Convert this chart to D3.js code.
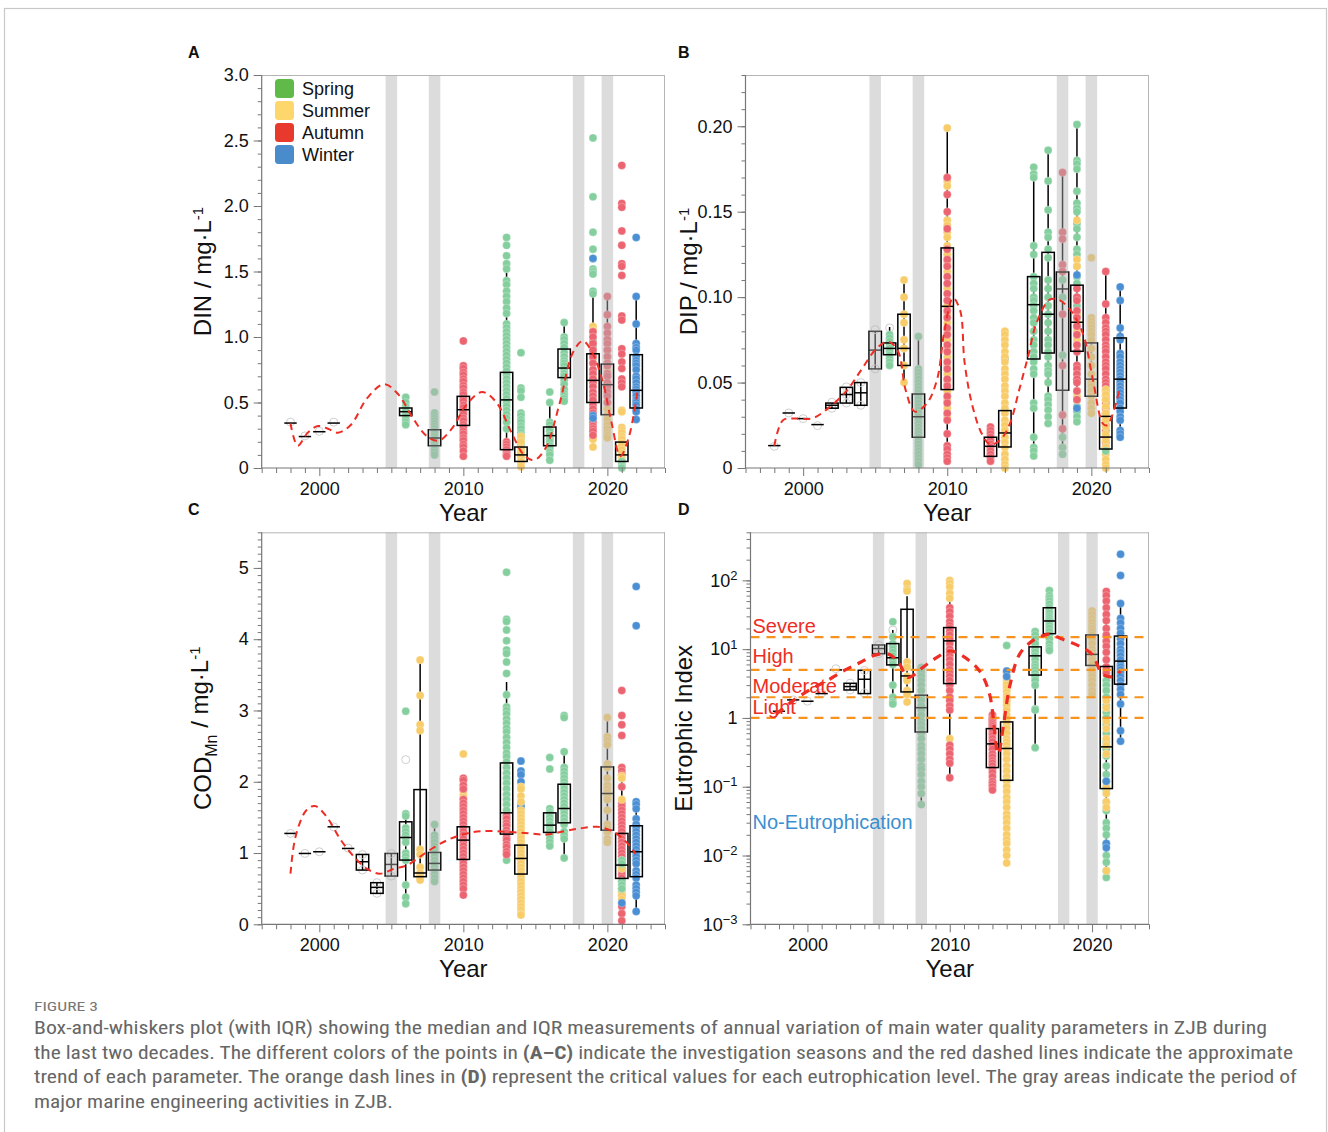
<!DOCTYPE html>
<html>
<head>
<meta charset="utf-8">
<script src="https://cdn.jsdelivr.net/npm/d3@7"></script>
<style>
body { margin: 0; background: #fff; }
svg text { font-family: "Liberation Sans", Arial, Helvetica, sans-serif; }
</style>
</head>
<body>
<svg id="fig" width="1328" height="1132"></svg>
<script>
// ---- data ----
var seasons = ["Spring", "Summer", "Autumn", "Winter"];
var engineeringYears = [2005, 2008, 2018, 2020];
var yearTicks = [2000, 2010, 2020];

// boxes: [year, whiskerLow, q1, median, q3, whiskerHigh]
var dinBoxes = [
    [1998, 0.343, 0.343, 0.343, 0.343, 0.343], [1999, 0.24, 0.24, 0.24, 0.24, 0.24],
    [2000, 0.277, 0.277, 0.277, 0.277, 0.277], [2001, 0.343, 0.343, 0.343, 0.343, 0.343],
    [2006, 0.33, 0.40, 0.43, 0.458, 0.52], [2008, 0.09, 0.17, 0.229, 0.292, 0.42],
    [2010, 0.09, 0.325, 0.445, 0.547, 0.775], [2013, 0.09, 0.14, 0.52, 0.73, 1.525],
    [2014, 0.01, 0.05, 0.10, 0.16, 0.30], [2016, 0.06, 0.17, 0.247, 0.313, 0.475],
    [2017, 0.51, 0.69, 0.763, 0.908, 1.085], [2019, 0.165, 0.50, 0.669, 0.872, 1.315],
    [2020, 0.22, 0.407, 0.636, 0.793, 1.31], [2021, 0, 0.05, 0.10, 0.198, 0.33],
    [2022, 0.376, 0.458, 0.593, 0.865, 1.315]
];
var dinPoints = [
    [1998, "none", [0.35]], [1999, "none", [0.245]], [2000, "none", [0.28]], [2001, "none", [0.35]],
    [2006, "Spring", [0.54, 0.50, 0.47, 0.45, 0.43, 0.41, 0.39, 0.37, 0.35, 0.33]],
    [2008, "Spring", [0.58, 0.42, 0.40, 0.38, 0.36, 0.34, 0.32, 0.30, 0.28, 0.26, 0.24, 0.22, 0.20, 0.18, 0.16, 0.14, 0.12, 0.10]],
    [2010, "Autumn", [0.97, 0.78, 0.76, 0.73, 0.71, 0.68, 0.66, 0.63, 0.61, 0.58, 0.56, 0.53, 0.51, 0.48, 0.46, 0.43, 0.41, 0.38, 0.36, 0.33, 0.31, 0.28, 0.26, 0.23, 0.21, 0.18, 0.16, 0.13, 0.09]],
    [2013, "Spring", [1.76, 1.70, 1.62, 1.56, 1.52, 1.43, 1.40, 1.35, 1.31, 1.27, 1.22, 1.18, 1.10, 1.07, 1.04, 1.01, 0.98, 0.95, 0.92, 0.89, 0.86, 0.83, 0.80, 0.77, 0.74, 0.71, 0.68, 0.65, 0.62, 0.59, 0.56, 0.53, 0.50, 0.47, 0.44, 0.41, 0.38, 0.35, 0.30]],
    [2013, "Autumn", [0.20, 0.18, 0.16, 0.14, 0.12, 0.10, 0.09]],
    [2014, "Spring", [0.88, 0.61, 0.59, 0.54, 0.42, 0.40, 0.37, 0.35, 0.32, 0.30, 0.27, 0.25, 0.22, 0.20, 0.18, 0.15, 0.12, 0.10]],
    [2014, "Summer", [0.24, 0.20, 0.15, 0.12, 0.08, 0.05, 0.03, 0.01]],
    [2016, "Spring", [0.58, 0.50, 0.35, 0.33, 0.30, 0.28, 0.25, 0.22, 0.20, 0.17, 0.15, 0.12, 0.10, 0.06]],
    [2017, "Spring", [1.11, 1.00, 0.98, 0.95, 0.92, 0.88, 0.85, 0.82, 0.80, 0.78, 0.75, 0.72, 0.70, 0.67, 0.64, 0.60, 0.57, 0.55, 0.53, 0.51]],
    [2019, "Spring", [2.52, 2.07, 1.80, 1.67, 1.60, 1.52, 1.50, 1.48, 1.35, 1.33, 0.97, 0.93, 0.88, 0.84]],
    [2019, "Summer", [1.08, 1.05, 0.70, 0.24, 0.22, 0.16]],
    [2019, "Autumn", [1.04, 1.00, 0.95, 0.90, 0.85, 0.80, 0.75, 0.72, 0.68, 0.65, 0.62, 0.58, 0.55, 0.52, 0.48, 0.45, 0.42, 0.38, 0.35, 0.32, 0.30, 0.28, 0.25]],
    [2019, "Winter", [1.60, 0.40, 0.38]],
    [2020, "Summer", [0.90, 0.85, 0.80, 0.75, 0.50, 0.45, 0.40, 0.37, 0.33, 0.30, 0.27, 0.25, 0.23]],
    [2020, "Autumn", [1.31, 1.17, 1.08, 1.03, 0.98, 0.95, 0.90, 0.85, 0.80, 0.78, 0.72, 0.70, 0.65, 0.62, 0.58, 0.55, 0.50]],
    [2021, "Autumn", [2.31, 2.02, 1.99, 1.81, 1.70, 1.56, 1.54, 1.47, 1.16, 1.13, 0.91, 0.87, 0.81, 0.76, 0.68, 0.65, 0.62]],
    [2021, "Summer", [0.44, 0.43, 0.31, 0.29, 0.27, 0.24, 0.22, 0.19, 0.17, 0.14, 0.11, 0.08, 0.06]],
    [2021, "Spring", [0.05, 0.03, 0.01, 0.0]],
    [2022, "Winter", [1.76, 1.31, 1.10, 0.95, 0.92, 0.90, 0.85, 0.82, 0.80, 0.78, 0.75, 0.70, 0.68, 0.65, 0.62, 0.60, 0.58, 0.55, 0.52, 0.50, 0.48, 0.45, 0.43, 0.37]]
];
var dinTrend = [[1998, 0.34], [1998.5, 0.17], [1999.2, 0.27], [1999.9, 0.32], [2000.6, 0.30], [2001.3, 0.27],
    [2002.2, 0.33], [2003.3, 0.53], [2004.5, 0.64], [2005.5, 0.56], [2006.5, 0.38], [2007.5, 0.24], [2008.3, 0.21],
    [2009.2, 0.30], [2010.2, 0.48], [2011.3, 0.58], [2012.3, 0.50], [2013.3, 0.28], [2014.2, 0.10], [2014.9, 0.06],
    [2015.7, 0.15], [2016.7, 0.50], [2017.6, 0.88], [2018.3, 0.97], [2019.0, 0.87], [2019.7, 0.65], [2020.3, 0.34],
    [2020.9, 0.09], [2021.5, 0.24], [2022.1, 0.59]];

var dipBoxes = [
    [1998, 0.0131, 0.0131, 0.0131, 0.0131, 0.0131], [1999, 0.0322, 0.0322, 0.0322, 0.0322, 0.0322],
    [2000, 0.0289, 0.0289, 0.0289, 0.0289, 0.0289], [2001, 0.0254, 0.0254, 0.0254, 0.0254, 0.0254],
    [2002, 0.035, 0.035, 0.0367, 0.038, 0.038], [2003, 0.038, 0.038, 0.043, 0.0472, 0.0472],
    [2004, 0.0367, 0.0367, 0.044, 0.050, 0.050], [2005, 0.058, 0.058, 0.069, 0.080, 0.080],
    [2006, 0.060, 0.0663, 0.070, 0.0732, 0.0825], [2007, 0.050, 0.060, 0.070, 0.090, 0.110],
    [2008, 0.002, 0.018, 0.030, 0.0433, 0.0775], [2010, 0.004, 0.0459, 0.0946, 0.1288, 0.199],
    [2013, 0.003, 0.0068, 0.0127, 0.018, 0.0254], [2014, 0, 0.0123, 0.0205, 0.0336, 0.081],
    [2016, 0.0068, 0.0638, 0.0956, 0.112, 0.1766], [2017, 0.026, 0.0673, 0.090, 0.1262, 0.1863],
    [2018, 0.0072, 0.0455, 0.1048, 0.1147, 0.1733], [2019, 0.027, 0.0683, 0.0853, 0.107, 0.201],
    [2020, 0.032, 0.042, 0.052, 0.0732, 0.088], [2021, 0, 0.0111, 0.0181, 0.0302, 0.115],
    [2022, 0.0185, 0.0351, 0.052, 0.0761, 0.1063]
];
var dipPoints = [
    [1998, "none", [0.0127]], [1999, "none", [0.0322]], [2000, "none", [0.0289]], [2001, "none", [0.0248]],
    [2002, "none", [0.0385, 0.035]], [2003, "none", [0.0475, 0.038, 0.043]], [2004, "none", [0.050, 0.0367]],
    [2005, "none", [0.081, 0.058]], [2006, "none", [0.082]],
    [2006, "Spring", [0.078, 0.076, 0.074, 0.072, 0.070, 0.068, 0.066, 0.064, 0.062, 0.060]],
    [2007, "Summer", [0.110, 0.100, 0.090, 0.085, 0.075, 0.070, 0.060, 0.050]],
    [2008, "Spring", [0.077, 0.058, 0.056, 0.054, 0.052, 0.050, 0.048, 0.046, 0.044, 0.042, 0.040, 0.038, 0.036, 0.034, 0.032, 0.030, 0.028, 0.026, 0.024, 0.022, 0.020, 0.018, 0.016, 0.014, 0.012, 0.010, 0.008, 0.006, 0.004, 0.002]],
    [2010, "Summer", [0.199, 0.168, 0.165, 0.145, 0.142, 0.138, 0.135, 0.130, 0.125, 0.120, 0.115, 0.105, 0.095, 0.090, 0.085, 0.080, 0.075, 0.070, 0.065, 0.060, 0.055, 0.050, 0.045, 0.040, 0.035, 0.030]],
    [2010, "Autumn", [0.170, 0.160, 0.150, 0.140, 0.128, 0.122, 0.118, 0.112, 0.108, 0.102, 0.098, 0.092, 0.088, 0.082, 0.078, 0.072, 0.068, 0.062, 0.058, 0.052, 0.048, 0.042, 0.038, 0.032, 0.028, 0.020, 0.013, 0.011, 0.008, 0.006, 0.004]],
    [2013, "Autumn", [0.024, 0.022, 0.020, 0.018, 0.016, 0.014, 0.012, 0.010, 0.008, 0.006, 0.004]],
    [2014, "Winter", [0.064]],
    [2014, "Summer", [0.080, 0.078, 0.075, 0.072, 0.068, 0.065, 0.062, 0.058, 0.055, 0.052, 0.048, 0.045, 0.042, 0.038, 0.035, 0.032, 0.028, 0.025, 0.022, 0.018, 0.015, 0.012, 0.008, 0.005, 0.002, 0.000]],
    [2016, "Spring", [0.176, 0.172, 0.170, 0.130, 0.125, 0.112, 0.108, 0.105, 0.100, 0.098, 0.095, 0.092, 0.088, 0.085, 0.080, 0.075, 0.072, 0.068, 0.065, 0.062, 0.058, 0.055, 0.038, 0.035, 0.018, 0.012, 0.010, 0.007]],
    [2017, "Spring", [0.186, 0.168, 0.151, 0.138, 0.135, 0.128, 0.123, 0.110, 0.105, 0.100, 0.095, 0.090, 0.085, 0.080, 0.075, 0.072, 0.068, 0.065, 0.060, 0.057, 0.055, 0.050, 0.042, 0.040, 0.037, 0.034, 0.030, 0.026]],
    [2018, "Spring", [0.110, 0.100, 0.066, 0.018, 0.012, 0.008]],
    [2018, "Autumn", [0.173, 0.138, 0.134, 0.119, 0.115, 0.090, 0.060, 0.031, 0.023]],
    [2019, "Spring", [0.201, 0.180, 0.178, 0.175, 0.162, 0.155, 0.152, 0.150, 0.143, 0.140, 0.135, 0.128, 0.125, 0.118, 0.112, 0.108, 0.100, 0.095, 0.090, 0.085, 0.040, 0.036, 0.033, 0.030, 0.027]],
    [2019, "Summer", [0.145, 0.122, 0.118, 0.090, 0.085, 0.080, 0.075, 0.072, 0.045, 0.042, 0.040]],
    [2019, "Autumn", [0.105, 0.100, 0.098, 0.092, 0.088, 0.083, 0.078, 0.072, 0.068, 0.060, 0.058, 0.055, 0.052, 0.050, 0.045, 0.040]],
    [2019, "Winter", [0.113, 0.035]],
    [2020, "Summer", [0.123, 0.088, 0.086, 0.084, 0.082, 0.080, 0.078, 0.075, 0.070, 0.065, 0.060, 0.055, 0.050, 0.048, 0.045, 0.042, 0.038, 0.035, 0.032]],
    [2021, "Autumn", [0.115, 0.096, 0.088, 0.085, 0.082, 0.080, 0.078, 0.075, 0.072, 0.070, 0.068, 0.065, 0.062, 0.060, 0.058, 0.055, 0.052, 0.050, 0.048, 0.045, 0.042, 0.040, 0.038, 0.035, 0.032, 0.028, 0.025, 0.022, 0.018, 0.015, 0.012]],
    [2021, "Summer", [0.046, 0.043, 0.040, 0.036, 0.032, 0.028, 0.024, 0.020, 0.016, 0.012, 0.008, 0.005, 0.002, 0.000]],
    [2021, "Spring", [0.010]],
    [2022, "Winter", [0.106, 0.098, 0.082, 0.077, 0.075, 0.067, 0.065, 0.062, 0.060, 0.058, 0.056, 0.054, 0.052, 0.050, 0.048, 0.046, 0.044, 0.042, 0.040, 0.038, 0.035, 0.033, 0.030, 0.028, 0.022, 0.020, 0.018]]
];
var dipTrend = [[1998, 0.013], [1998.6, 0.028], [1999.5, 0.029], [2000.6, 0.029], [2001.6, 0.034], [2003, 0.045],
    [2004, 0.057], [2005.1, 0.070], [2005.9, 0.074], [2006.6, 0.068], [2007.1, 0.046], [2007.75, 0.033],
    [2008.6, 0.038], [2009.3, 0.052], [2009.8, 0.080], [2010.4, 0.0995], [2010.9, 0.092], [2011.2, 0.062],
    [2011.7, 0.038], [2012.4, 0.020], [2013.0, 0.0137], [2013.7, 0.0166], [2014.35, 0.026], [2015, 0.046],
    [2015.6, 0.065], [2016.2, 0.085], [2017.1, 0.0985], [2017.7, 0.0985], [2018.5, 0.093], [2019.4, 0.079],
    [2020.1, 0.052], [2020.8, 0.026], [2021.1, 0.025], [2021.5, 0.032], [2022, 0.048]];

var codBoxes = [
    [1998, 1.275, 1.275, 1.275, 1.275, 1.275], [1999, 0.994, 0.994, 0.994, 0.994, 0.994],
    [2000, 1.018, 1.018, 1.018, 1.018, 1.018], [2001, 1.368, 1.368, 1.368, 1.368, 1.368],
    [2002, 1.064, 1.064, 1.064, 1.064, 1.064], [2003, 0.761, 0.761, 0.878, 0.98, 0.98],
    [2004, 0.434, 0.434, 0.518, 0.584, 0.584], [2005, 0.677, 0.677, 0.84, 0.994, 0.994],
    [2006, 0.294, 0.901, 1.218, 1.438, 1.555], [2007, 0.62, 0.668, 0.72, 1.89, 3.71],
    [2008, 0.574, 0.761, 0.854, 1.008, 1.415], [2010, 0.41, 0.910, 1.181, 1.368, 2.07],
    [2013, 0.90, 1.265, 1.564, 2.264, 3.40], [2014, 0.13, 0.705, 0.924, 1.111, 1.93],
    [2016, 1.10, 1.289, 1.391, 1.564, 1.62], [2017, 0.924, 1.424, 1.625, 1.965, 2.395],
    [2020, 1.134, 1.321, 1.835, 2.208, 2.908], [2021, 0.05, 0.644, 0.831, 1.275, 2.02],
    [2022, 0.177, 0.668, 1.018, 1.382, 1.74]
];
var codPoints = [
    [1998, "none", [1.275]], [1999, "none", [0.994]], [2000, "none", [1.018]], [2001, "none", [1.368]],
    [2002, "none", [1.07]], [2003, "none", [0.98, 0.761]], [2004, "none", [0.584, 0.434]],
    [2005, "none", [0.994, 0.677]], [2006, "none", [2.31]],
    [2006, "Spring", [2.99, 1.55, 1.52, 1.35, 1.30, 1.25, 1.20, 1.15, 1.00, 0.95, 0.90, 0.55, 0.38, 0.29]],
    [2007, "Summer", [3.71, 3.21, 2.80, 2.72, 1.05, 0.98, 0.80, 0.72, 0.68, 0.65, 0.62]],
    [2008, "Spring", [1.40, 1.25, 1.20, 1.15, 1.10, 1.05, 1.00, 0.95, 0.90, 0.85, 0.80, 0.75, 0.70, 0.65, 0.60]],
    [2010, "Summer", [2.39, 1.88, 1.82, 1.78, 1.68]],
    [2010, "Autumn", [2.05, 2.02, 1.95, 1.90, 1.75, 1.70, 1.65, 1.60, 1.55, 1.50, 1.45, 1.40, 1.35, 1.30, 1.25, 1.20, 1.15, 1.10, 1.05, 1.00, 0.95, 0.90, 0.85, 0.80, 0.75, 0.70, 0.65, 0.60, 0.55, 0.50, 0.41]],
    [2013, "Spring", [4.94, 4.28, 4.25, 4.13, 3.98, 3.85, 3.80, 3.68, 3.52, 3.22, 3.05, 3.00, 2.95, 2.88, 2.82, 2.75, 2.70, 2.62, 2.55, 2.48, 2.40, 2.35, 2.28, 2.20, 2.12, 2.05, 1.98, 1.90, 1.82, 1.75, 1.68, 1.60, 1.52, 1.45, 1.38, 1.32, 0.90]],
    [2013, "Autumn", [1.52, 1.48, 1.42, 1.38, 1.32, 1.28, 1.22, 1.18, 1.12, 1.08, 1.02, 0.98]],
    [2014, "Winter", [2.29, 2.15, 2.10, 2.00, 1.70, 1.65]],
    [2014, "Summer", [1.93, 1.90, 1.80, 1.72, 1.60, 1.55, 1.50, 1.45, 1.40, 1.35, 1.30, 1.25, 1.20, 1.15, 1.10, 1.05, 1.00, 0.95, 0.90, 0.85, 0.80, 0.75, 0.70, 0.65, 0.60, 0.55, 0.50, 0.45, 0.40, 0.35, 0.30, 0.25, 0.20, 0.15, 0.13]],
    [2016, "Spring", [2.34, 2.18, 1.62, 1.58, 1.55, 1.50, 1.45, 1.40, 1.35, 1.30, 1.25, 1.20, 1.15, 1.10]],
    [2017, "Spring", [2.93, 2.90, 2.42, 2.20, 2.15, 2.10, 2.05, 2.00, 1.95, 1.90, 1.85, 1.80, 1.75, 1.70, 1.65, 1.60, 1.55, 1.50, 1.45, 1.40, 1.30, 1.25, 1.20, 0.93]],
    [2020, "Summer", [2.90, 2.63, 2.58, 2.52, 2.25, 2.20, 2.05, 1.95, 1.90, 1.85, 1.80, 1.75, 1.60, 1.40, 1.35, 1.30, 1.20, 1.15]],
    [2021, "Autumn", [3.28, 2.93, 2.80, 2.65, 2.20, 2.15, 2.10, 1.93, 1.70, 1.65, 1.60, 1.55, 1.50, 1.45, 1.40, 1.35, 1.30, 1.25, 1.20, 1.15, 1.10, 1.05, 1.00, 0.95, 0.90, 0.85, 0.80, 0.75, 0.70, 0.65, 0.60, 0.50, 0.40, 0.30, 0.25, 0.15, 0.05]],
    [2021, "Summer", [2.08, 2.05, 1.75, 0.78, 0.45, 0.40, 0.35]],
    [2021, "Spring", [0.90, 0.85, 0.60, 0.55, 0.50]],
    [2021, "Winter", [0.30]],
    [2022, "Winter", [4.74, 4.19, 1.72, 1.68, 1.62, 1.48, 1.40, 1.35, 1.30, 1.25, 1.20, 1.15, 1.10, 1.05, 1.00, 0.95, 0.90, 0.85, 0.75, 0.70, 0.65, 0.55, 0.50, 0.45, 0.40, 0.18]]
];
var codTrend = [[1998, 0.71], [1998.35, 1.23], [1999.1, 1.60], [1999.7, 1.66], [2000.5, 1.51], [2001.5, 1.18],
    [2002.4, 0.95], [2003.3, 0.78], [2004.2, 0.71], [2005.2, 0.78], [2006.1, 0.83], [2007, 0.95], [2008.05, 1.09],
    [2009.1, 1.20], [2010.25, 1.275], [2011.2, 1.307], [2012.3, 1.307], [2013.5, 1.29], [2014.65, 1.275],
    [2015.8, 1.26], [2017, 1.307], [2018.1, 1.345], [2019.3, 1.368], [2020.2, 1.32], [2020.9, 1.23],
    [2021.6, 1.09], [2021.95, 0.99]];

var euBoxes = [
    [1998, 1.25, 1.25, 1.25, 1.25, 1.25], [1999, 1.83, 1.83, 1.83, 1.83, 1.83],
    [2000, 1.75, 1.75, 1.75, 1.75, 1.75], [2001, 2.26, 2.26, 2.26, 2.26, 2.26],
    [2002, 4.99, 4.99, 4.99, 4.99, 4.99], [2003, 2.55, 2.55, 2.86, 3.19, 3.19],
    [2004, 2.26, 2.26, 3.65, 4.93, 4.93], [2005, 8.6, 8.6, 10.2, 11.5, 11.5],
    [2006, 1.77, 5.9, 7.5, 12.05, 19], [2007, 1.67, 2.39, 4.08, 38, 59],
    [2008, 0.0587, 0.625, 1.41, 2.14, 5.4], [2010, 0.135, 3.16, 13.2, 20.6, 88],
    [2013, 0.092, 0.19, 0.42, 0.70, 1.13], [2014, 0.0078, 0.124, 0.36, 0.875, 4.8],
    [2016, 0.37, 4.2, 8.0, 10.8, 18], [2017, 9.6, 16.8, 25.7, 40, 71],
    [2020, 2.2, 5.8, 8.4, 16.1, 38], [2021, 0.0048, 0.094, 0.38, 5.6, 69],
    [2022, 0.46, 3.1, 6.7, 15.5, 46]
];
var euPoints = [
    [1999, "none", [1.83]], [2000, "none", [1.75]], [2001, "none", [2.3]], [2002, "none", [5.2]],
    [2003, "none", [3.2, 2.55]], [2004, "none", [4.9, 2.3]], [2005, "none", [11.5, 8.6]], [2006, "none", [19]],
    [2006, "Spring", [25, 15, 12, 11, 10, 9, 8, 7, 6.5, 6, 3, 2, 1.7, 1.6]],
    [2007, "Summer", [90, 75, 70, 6.5, 5.5, 4, 3.5, 2.5, 2.2, 1.7]],
    [2008, "Spring", [5.4, 5, 4.5, 4, 3.5, 3, 2.5, 2, 1.8, 1.5, 1.3, 1.1, 0.9, 0.8, 0.7, 0.6, 0.5, 0.4, 0.35, 0.3, 0.25, 0.2, 0.18, 0.15, 0.12, 0.1, 0.08, 0.055]],
    [2010, "Summer", [100, 90, 80, 65, 55, 0.5]],
    [2010, "Autumn", [40, 35, 30, 25, 22, 20, 18, 16, 14, 12, 10, 9, 8, 7, 6, 5, 4.5, 4, 3.5, 3, 2.5, 2, 1.8, 1.5, 1.3, 0.4, 0.35, 0.3, 0.25, 0.22, 0.135]],
    [2013, "Autumn", [1.1, 1.0, 0.95, 0.9, 0.85, 0.8, 0.75, 0.7, 0.65, 0.6, 0.55, 0.5, 0.45, 0.4, 0.35, 0.3, 0.27, 0.24, 0.22, 0.2, 0.18, 0.16, 0.14, 0.12, 0.11, 0.1, 0.09]],
    [2014, "Spring", [11.3]],
    [2014, "Summer", [4.5, 3.8, 3.5, 3.2, 3, 2.7, 2.4, 2.1, 1.9, 1.7, 1.5, 1.3, 1.1, 1.0, 0.9, 0.8, 0.7, 0.6, 0.5, 0.45, 0.4, 0.35, 0.3, 0.25, 0.2, 0.17, 0.14, 0.12, 0.1, 0.085, 0.07, 0.06, 0.05, 0.04, 0.035, 0.03, 0.025, 0.02, 0.017, 0.015, 0.012, 0.01, 0.0078]],
    [2014, "Winter", [4.8, 4.0]],
    [2016, "Spring", [18, 16, 14, 12, 10, 9, 8, 7, 6, 5.5, 5, 4.5, 4, 3.5, 3, 1.35, 1.3, 0.37]],
    [2017, "Spring", [71, 60, 55, 50, 45, 40, 36, 33, 30, 28, 26, 24, 22, 20, 18, 16, 14, 12, 10.5, 9.6]],
    [2020, "Summer", [36, 32, 28, 25, 22, 20, 18, 16, 14, 12, 10, 9, 8, 7, 6, 5, 4.5, 4, 3.5, 3, 2.5, 2.2]],
    [2021, "Autumn", [69, 60, 50, 40, 32, 26, 20, 16, 13, 11, 9, 7, 5.5, 4.5]],
    [2021, "Spring", [3.5, 3, 2.5, 2, 1.5, 1.2, 1, 0.8, 0.6, 0.45, 0.35, 0.28, 0.2, 0.15, 0.12, 0.09, 0.06, 0.045, 0.03, 0.025, 0.02, 0.015, 0.01, 0.008, 0.006, 0.0048]],
    [2021, "Summer", [1.8, 1.4, 0.9, 0.7, 0.5, 0.4, 0.3, 0.1, 0.08, 0.06, 0.05, 0.006]],
    [2021, "Winter", [0.12, 0.015, 0.013]],
    [2022, "Winter", [240, 118, 46, 28, 24, 20, 17, 14, 12, 10, 9, 8, 7, 6, 5.5, 5, 4.5, 4, 3.5, 3, 2.6, 2.2, 1.6, 0.65, 0.46]]
];
var euTrend = [[1997.8, 1.13], [1998.8, 1.67], [2000.2, 2.6], [2001.35, 3.45], [2002.5, 4.8], [2003.7, 6.4],
    [2004.6, 8.0], [2005.3, 8.6], [2005.8, 8.3], [2006.5, 6.0], [2007, 3.9], [2007.4, 4.1], [2008.1, 5.4],
    [2009.1, 7.6], [2010, 9.4], [2010.9, 8.0], [2012.1, 4.8], [2012.8, 2.2], [2013.4, 0.3], [2013.75, 0.72],
    [2014.2, 2.8], [2014.9, 8.4], [2015.8, 13.2], [2016.5, 15.6], [2017, 16.5], [2017.9, 14], [2019.1, 11.1],
    [2020, 8.4], [2020.75, 4.3], [2021.45, 4.0], [2022, 4.8]];

var eutroLevels = [15, 5, 2, 1];
var eutroLabels = [["Severe", 15, -4], ["High", 5, -7], ["Moderate", 2, -4], ["Light", 1, -4]];

var captionLines = [
    ["Box-and-whiskers plot (with IQR) showing the median and IQR measurements of annual variation of main water quality parameters in ZJB during"],
    ["the last two decades. The different colors of the points in ", "(A\u2013C)", " indicate the investigation seasons and the red dashed lines indicate the approximate"],
    ["trend of each parameter. The orange dash lines in ", "(D)", " represent the critical values for each eutrophication level. The gray areas indicate the period of"],
    ["major marine engineering activities in ZJB."]
];

// ---- styles ----
var pointColor = { Spring: "#85cf9f", Summer: "#f7cc69", Autumn: "#ec6470", Winter: "#4a8fd4" };
var legendColor = { Spring: "#5fba4a", Summer: "#fdd66c", Autumn: "#e8392d", Winter: "#4a8bcc" };
var trendRed = "#ee2d24";

var svg = d3.select("#fig");

svg.append("rect")
    .attr("x", 4.5).attr("y", 8.5)
    .attr("width", 1322).attr("height", 1130)
    .attr("fill", "none").attr("stroke", "#c8c8c8").attr("stroke-width", 1.2);

function drawPanel(p) {
    var g = svg.append("g");
    var x = d3.scaleLinear().domain([1996, 2024]).range([p.left, p.right]);
    var y = p.y.range([p.bottom, p.top]);
    var hw = (x(1) - x(0)) * 0.43;

    // whiskers
    g.selectAll(".whisker")
        .data(p.boxes)
        .enter().append("line")
        .attr("x1", function (d) { return x(d[0]); })
        .attr("x2", function (d) { return x(d[0]); })
        .attr("y1", function (d) { return y(d[1]); })
        .attr("y2", function (d) { return y(d[5]); })
        .attr("stroke", "#000").attr("stroke-width", 1.5);

    // points
    var flat = [];
    p.points.forEach(function (row) {
        row[2].forEach(function (v) { flat.push({ yr: row[0], s: row[1], v: v }); });
    });
    g.selectAll(".dot")
        .data(flat)
        .enter().append("circle")
        .attr("cx", function (d) { return x(d.yr); })
        .attr("cy", function (d) { return y(d.v); })
        .attr("r", 4)
        .attr("fill", function (d) { return d.s === "none" ? "none" : pointColor[d.s]; })
        .attr("stroke", function (d) { return d.s === "none" ? "#cfcfcf" : "#ffffff"; })
        .attr("stroke-opacity", function (d) { return d.s === "none" ? 1 : 0.45; })
        .attr("stroke-width", function (d) { return d.s === "none" ? 1 : 0.6; });

    // boxes
    g.selectAll(".box")
        .data(p.boxes)
        .enter().append("rect")
        .attr("x", function (d) { return x(d[0]) - hw; })
        .attr("width", hw * 2)
        .attr("y", function (d) { return y(d[4]); })
        .attr("height", function (d) { return Math.max(0, y(d[2]) - y(d[4])); })
        .attr("fill", "none").attr("stroke", "#000").attr("stroke-width", 1.5);
    g.selectAll(".median")
        .data(p.boxes)
        .enter().append("line")
        .attr("x1", function (d) { return x(d[0]) - hw; })
        .attr("x2", function (d) { return x(d[0]) + hw; })
        .attr("y1", function (d) { return y(d[3]); })
        .attr("y2", function (d) { return y(d[3]); })
        .attr("stroke", "#000").attr("stroke-width", 1.5);

    // engineering periods
    g.selectAll(".band")
        .data(engineeringYears)
        .enter().append("rect")
        .attr("x", function (d) { return x(d - 0.4); })
        .attr("width", x(0.8) - x(0))
        .attr("y", p.top).attr("height", p.bottom - p.top)
        .attr("fill", "#b2b2b2").attr("fill-opacity", 0.45);

    // eutrophication levels
    if (p.levels) {
        g.selectAll(".level")
            .data(p.levels)
            .enter().append("line")
            .attr("x1", p.left).attr("x2", p.right)
            .attr("y1", function (d) { return y(d); })
            .attr("y2", function (d) { return y(d); })
            .attr("stroke", "#f7941d").attr("stroke-width", 2.2)
            .attr("stroke-dasharray", "9,7");
    }

    // trend
    var line = d3.line()
        .x(function (d) { return x(d[0]); })
        .y(function (d) { return y(d[1]); })
        .curve(d3.curveCatmullRom.alpha(0.5));
    g.append("path")
        .datum(p.trend)
        .attr("d", line)
        .attr("fill", "none")
        .attr("stroke", trendRed)
        .attr("stroke-width", p.trendWidth)
        .attr("stroke-dasharray", p.trendDash);

    if (p.levels) {
        g.selectAll(".lvlLabel")
            .data(eutroLabels)
            .enter().append("text")
            .attr("x", p.left + 2)
            .attr("y", function (d) { return y(d[1]) + d[2]; })
            .attr("font-size", 20)
            .attr("fill", "#ee2d24")
            .text(function (d) { return d[0]; });
        g.append("text")
            .attr("x", p.left + 2)
            .attr("y", y(0.024))
            .attr("font-size", 20)
            .attr("fill", "#3b8fd0")
            .text("No-Eutrophication");
    }

    // frame
    g.append("line").attr("x1", p.left).attr("x2", p.right).attr("y1", p.top + 0.5).attr("y2", p.top + 0.5)
        .attr("stroke", "#b5b5b5");
    g.append("line").attr("x1", p.right - 0.5).attr("x2", p.right - 0.5).attr("y1", p.top).attr("y2", p.bottom)
        .attr("stroke", "#b5b5b5");

    // x axis
    var xMinor = d3.range(1996, 2025).filter(function (v) { return yearTicks.indexOf(v) < 0; });
    var gxm = g.append("g").attr("transform", "translate(0," + p.bottom + ")")
        .call(d3.axisBottom(x).tickValues(xMinor).tickSize(5).tickFormat(""));
    var gx = g.append("g").attr("transform", "translate(0," + p.bottom + ")")
        .call(d3.axisBottom(x).tickValues(yearTicks).tickSize(8).tickPadding(6).tickFormat(d3.format("d")));
    gx.selectAll("text").attr("font-size", 18).attr("fill", "#111");

    // y axis
    var gym = g.append("g").attr("transform", "translate(" + p.left + ",0)")
        .call(d3.axisLeft(y).tickValues(p.minor).tickSize(4).tickFormat(""));
    var gy = g.append("g").attr("transform", "translate(" + p.left + ",0)")
        .call(d3.axisLeft(y).tickValues(p.major).tickSize(8).tickPadding(5).tickFormat(p.fmt));
    gy.selectAll("text").attr("font-size", 18).attr("fill", "#111");
    [gxm, gx, gym, gy].forEach(function (a) {
        a.selectAll(".domain").attr("stroke", "#777").attr("stroke-width", 1.2);
        a.selectAll(".tick line").attr("stroke", "#777");
    });
    gxm.select(".domain").remove();
    gym.select(".domain").remove();
    gx.select(".domain").attr("d", "M" + p.left + ",0H" + p.right);
    gy.select(".domain").attr("d", "M0," + p.top + "V" + p.bottom);

    if (p.superscript) {
        gy.selectAll(".tick text").each(function (d) {
            var t = d3.select(this).text("");
            var e = Math.round(Math.log10(d));
            if (e === 0) {
                t.append("tspan").text("1");
            } else {
                t.append("tspan").text("10");
                t.append("tspan").attr("dy", "-0.5em").attr("font-size", 13)
                    .text(e < 0 ? "\u2212" + (-e) : String(e));
            }
        });
    }

    // axis titles
    g.append("text")
        .attr("x", (p.left + p.right) / 2).attr("y", p.bottom + 53)
        .attr("text-anchor", "middle").attr("font-size", 24).attr("fill", "#111")
        .text("Year");
    var ty = g.append("text")
        .attr("transform", "translate(" + p.titleX + "," + ((p.top + p.bottom) / 2) + ") rotate(-90)")
        .attr("text-anchor", "middle").attr("font-size", 24).attr("fill", "#111");
    p.title.forEach(function (part) {
        var ts = ty.append("tspan").text(part[0]);
        if (part[1] === "sub") ts.attr("font-size", 16).attr("dy", "0.35em");
        if (part[1] === "back") ts.attr("dy", "-0.35em");
        if (part[1] === "sup") ts.attr("font-size", 15).attr("dy", "-0.55em");
    });

    // panel letter
    g.append("text")
        .attr("x", p.letterX).attr("y", p.top - 17)
        .attr("font-size", 16).attr("font-weight", "bold").attr("fill", "#111")
        .text(p.letter);
    return { x: x, y: y };
}

drawPanel({
    letter: "A", letterX: 188, left: 261.7, right: 665, top: 75, bottom: 468,
    y: d3.scaleLinear().domain([0, 3.0]),
    major: [0, 0.5, 1.0, 1.5, 2.0, 2.5, 3.0],
    minor: d3.range(0, 31).map(function (i) { return i / 10; }),
    fmt: function (d) { return d === 0 ? "0" : d3.format(".1f")(d); },
    boxes: dinBoxes, points: dinPoints, trend: dinTrend, trendWidth: 2, trendDash: "7,5",
    titleX: 211, title: [["DIN / mg\u00b7L"], ["-1", "sup"]]
});
drawPanel({
    letter: "B", letterX: 678, left: 745.5, right: 1149, top: 75, bottom: 468,
    y: d3.scaleLinear().domain([0, 0.23]),
    major: [0, 0.05, 0.10, 0.15, 0.20],
    minor: d3.range(0, 24).map(function (i) { return i / 100; }),
    fmt: function (d) { return d === 0 ? "0" : d3.format(".2f")(d); },
    boxes: dipBoxes, points: dipPoints, trend: dipTrend, trendWidth: 2, trendDash: "7,5",
    titleX: 697, title: [["DIP / mg\u00b7L"], ["-1", "sup"]]
});
drawPanel({
    letter: "C", letterX: 188, left: 261.7, right: 665, top: 532.3, bottom: 924.3,
    y: d3.scaleLinear().domain([0, 5.5]),
    major: [0, 1, 2, 3, 4, 5],
    minor: d3.range(0, 56).map(function (i) { return i / 10; }),
    fmt: d3.format("d"),
    boxes: codBoxes, points: codPoints, trend: codTrend, trendWidth: 2, trendDash: "7,5",
    titleX: 211, title: [["COD"], ["Mn", "sub"], [" / mg\u00b7L", "back"], ["-1", "sup"]]
});
var dMinor = [];
[0.001, 0.01, 0.1, 1, 10, 100].forEach(function (b) {
    for (var k = 1; k <= 9; k++) { if (b * k <= 500) dMinor.push(b * k); }
});
drawPanel({
    letter: "D", letterX: 678, left: 750.5, right: 1149, top: 532.3, bottom: 924.3,
    y: d3.scaleLog().domain([0.001, 500]),
    major: [0.001, 0.01, 0.1, 1, 10, 100],
    minor: dMinor,
    fmt: "", superscript: true,
    boxes: euBoxes, points: euPoints, trend: euTrend, trendWidth: 3.2, trendDash: "9,7",
    levels: eutroLevels,
    titleX: 692, title: [["Eutrophic Index"]]
});

// legend (panel A)
var lg = svg.append("g");
lg.selectAll("rect")
    .data(seasons)
    .enter().append("rect")
    .attr("x", 275).attr("y", function (d, i) { return 79 + i * 22; })
    .attr("width", 19).attr("height", 19).attr("rx", 3.5)
    .attr("fill", function (d) { return legendColor[d]; });
lg.selectAll("text")
    .data(seasons)
    .enter().append("text")
    .attr("x", 302).attr("y", function (d, i) { return 95 + i * 22; })
    .attr("font-size", 18).attr("fill", "#111")
    .text(function (d) { return d; });

// caption
var capFont = "'Liberation Sans Narrow', 'Roboto Condensed', 'Open Sans', sans-serif";
svg.append("text")
    .attr("x", 34).attr("y", 1011)
    .attr("font-size", 13).attr("fill", "#777")
    .style("font-family", capFont)
    .attr("textLength", 64).attr("lengthAdjust", "spacingAndGlyphs")
    .text("FIGURE 3");
var capEnds = [1267, 1293, 1297, 393];
captionLines.forEach(function (parts, i) {
    var t = svg.append("text")
        .attr("x", 34).attr("y", 1034 + i * 24.5)
        .attr("font-size", 18).attr("fill", "#666")
        .style("font-family", capFont)
        .attr("textLength", capEnds[i] - 34).attr("lengthAdjust", "spacingAndGlyphs");
    parts.forEach(function (s) {
        var ts = t.append("tspan").text(s);
        if (/^\(/.test(s)) ts.attr("font-weight", "bold");
    });
});
</script>
</body>
</html>
